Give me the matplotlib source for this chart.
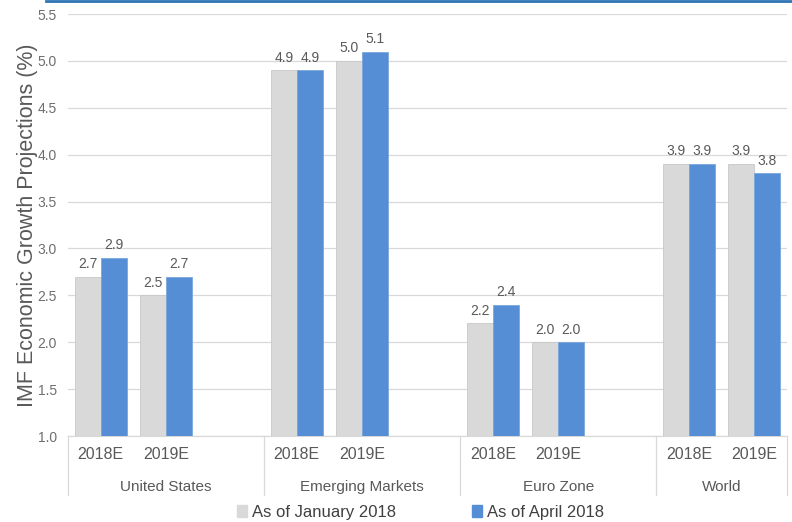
import matplotlib
matplotlib.use("Agg")
import matplotlib.pyplot as plt
from matplotlib.patches import Patch
from matplotlib.lines import Line2D
import numpy as np

plt.rcParams["font.family"] = ["Liberation Sans", "DejaVu Sans"]

# ---------------------------------------------------------------
# DATA
# ---------------------------------------------------------------
regions = ["United States", "Emerging Markets", "Euro Zone", "World"]
years = ["2018E", "2019E"]
jan_2018 = [2.7, 2.5, 4.9, 5.0, 2.2, 2.0, 3.9, 3.9]
apr_2018 = [2.9, 2.7, 4.9, 5.1, 2.4, 2.0, 3.9, 3.8]

GRAY = "#D9D9D9"
BLUE = "#558ED5"
TEXT = "#595959"
LINE = "#D9D9D9"

# each region takes two year slots plus one empty slot (none after the last)
slot_x = []
for i in range(len(regions)):
    for j in range(len(years)):
        slot_x.append(i * 3 + j)
slot_x = np.array(slot_x)
bar_w = 0.4
seps = [-0.5, 2.5, 5.5, 8.5, 10.5]

fig = plt.figure(figsize=(7.92, 5.22), dpi=100)
ax = fig.add_axes([68 / 792, 1 - 436 / 522, (787 - 68) / 792, (436 - 14) / 522])

b1 = ax.bar(slot_x - bar_w / 2, jan_2018, bar_w, color=GRAY,
            edgecolor="#C8C8C8", linewidth=0.6, zorder=3)
b2 = ax.bar(slot_x + bar_w / 2, apr_2018, bar_w, color=BLUE,
            edgecolor="#7AA7DE", linewidth=0.6, zorder=3)

for bars, vals in ((b1, jan_2018), (b2, apr_2018)):
    for rect, v in zip(bars, vals):
        ax.annotate(f"{v:.1f}", (rect.get_x() + rect.get_width() / 2, v),
                    xytext=(0, 4), textcoords="offset points",
                    ha="center", va="bottom", fontsize=10, color=TEXT)

ax.set_ylim(1.0, 5.5)
ax.set_xlim(-0.5, 10.5)
ticks = np.arange(1.0, 5.51, 0.5)
ax.set_yticks(ticks)
ax.set_yticklabels([f"{t:.1f}" for t in ticks])
ax.tick_params(axis="y", length=0, pad=8, labelsize=10, labelcolor="#6E6E6E")
ax.grid(axis="y", color=LINE, linewidth=0.9, zorder=0)
ax.set_axisbelow(True)

for side in ("top", "left", "right"):
    ax.spines[side].set_visible(False)
ax.spines["bottom"].set_color(LINE)
ax.spines["bottom"].set_linewidth(0.9)

# two-level category axis
ax.set_xticks([])
trans = ax.get_xaxis_transform()
for x, yr in zip(slot_x, years * len(regions)):
    ax.text(x, -0.045, yr, transform=trans, ha="center", va="center",
            fontsize=11.5, color=TEXT)
for i, name in enumerate(regions):
    center = (seps[i] + seps[i + 1]) / 2
    ax.text(center, -0.12, name, transform=trans, ha="center", va="center",
            fontsize=11, color=TEXT)
for sx in seps:
    ax.add_line(Line2D([sx, sx], [0, -0.14], transform=trans, color=LINE,
                       linewidth=0.9, clip_on=False))

ax.set_ylabel("IMF Economic Growth Projections (%)", fontsize=15.5,
              color=TEXT, labelpad=0)

handles = [Patch(facecolor=GRAY, edgecolor=GRAY, label="As of January 2018"),
           Patch(facecolor=BLUE, edgecolor=BLUE, label="As of April 2018")]
fig.legend(handles=handles, loc="center", bbox_to_anchor=(0.531, 1 - 512 / 522),
           ncol=2, frameon=False, fontsize=12, handlelength=0.6,
           handleheight=0.7, handletextpad=0.3, columnspacing=4.6,
           labelcolor="#404040")

# thin blue rule along the top edge
fig.add_artist(Line2D([46 / 792, 1], [0.998, 0.998], color="#2E75B6",
                      linewidth=2.0, transform=fig.transFigure))

fig.savefig("out.png", dpi=100)
